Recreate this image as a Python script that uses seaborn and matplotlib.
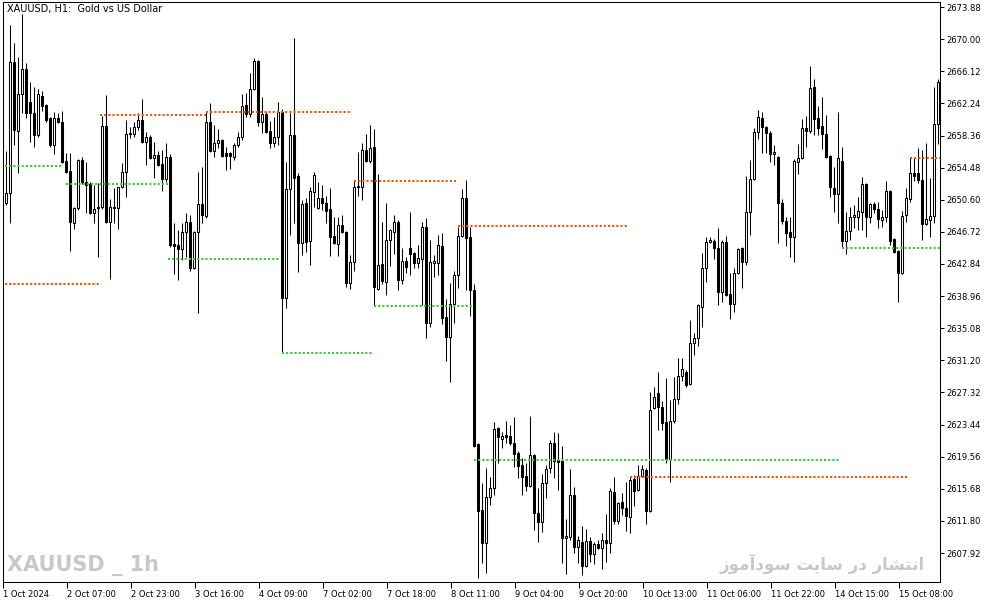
import numpy as np
import pandas as pd
import matplotlib
matplotlib.use("Agg")
import matplotlib.pyplot as plt
import seaborn as sns

# XAUUSD H1 candles (1 Oct - 15 Oct 2024)
opens = [2650.21, 2651.42, 2667.24, 2658.91, 2663.37, 2666.39, 2662.41, 2661.08, 2658.42, 2663.13,
         2662.05, 2660.48, 2657.21, 2660.48, 2659.99, 2655.28, 2654.07, 2647.79, 2649.60, 2655.40,
         2652.74, 2652.50, 2649.00, 2649.72, 2649.72, 2659.51, 2647.91, 2649.72, 2649.60, 2652.14,
         2653.95, 2658.54, 2658.54, 2659.39, 2660.23, 2657.58, 2658.18, 2655.64, 2656.01, 2654.92,
         2653.11, 2655.76, 2645.25, 2645.13, 2644.65, 2646.70, 2647.91, 2642.36, 2646.70, 2650.09,
         2648.64, 2659.99, 2656.49, 2657.46, 2657.82, 2656.25, 2656.25, 2655.76, 2657.21, 2658.18,
         2662.05, 2660.96, 2663.98, 2667.36, 2659.99, 2660.96, 2658.91, 2657.46, 2658.18, 2661.20,
         2638.73, 2651.90, 2658.42, 2653.47, 2645.38, 2650.21, 2645.62, 2651.54, 2649.60, 2650.81,
         2650.21, 2649.48, 2646.22, 2645.25, 2647.55, 2646.70, 2640.54, 2643.08, 2652.26, 2652.14,
         2656.61, 2655.28, 2656.97, 2639.82, 2642.84, 2640.66, 2645.74, 2646.70, 2647.91, 2640.91,
         2643.20, 2644.77, 2644.17, 2642.96, 2643.44, 2647.31, 2635.71, 2642.96, 2642.96, 2645.01,
         2636.44, 2634.02, 2638.01, 2641.51, 2646.22, 2650.81, 2646.10, 2639.70, 2621.09, 2613.12,
         2609.14, 2614.69, 2615.78, 2623.03, 2621.70, 2622.18, 2622.06, 2621.22, 2620.01, 2618.56,
         2617.23, 2616.02, 2619.77, 2612.76, 2611.67, 2616.38, 2618.20, 2621.22, 2619.16, 2619.04,
         2609.74, 2609.86, 2614.93, 2608.65, 2609.26, 2606.36, 2609.38, 2607.81, 2609.01, 2608.53,
         2609.50, 2609.14, 2615.30, 2611.79, 2614.09, 2613.36, 2612.28, 2616.87, 2615.54, 2617.23,
         2617.95, 2613.00, 2625.44, 2627.26, 2625.56, 2623.75, 2619.28, 2623.87, 2626.53, 2629.31,
         2629.79, 2628.34, 2633.30, 2633.90, 2637.64, 2642.36, 2645.50, 2645.62, 2644.77, 2639.46,
         2645.50, 2639.21, 2638.01, 2641.75, 2644.77, 2643.08, 2649.12, 2653.11, 2658.78, 2660.48,
         2659.39, 2658.66, 2656.13, 2655.76, 2650.21, 2648.03, 2646.70, 2646.10, 2655.16, 2655.64,
         2659.27, 2658.91, 2664.22, 2660.48, 2659.51, 2658.54, 2655.89, 2652.02, 2651.29, 2655.28,
         2645.62, 2646.83, 2648.52, 2648.52, 2649.12, 2652.50, 2648.52, 2650.09, 2649.48, 2648.15,
         2648.52, 2651.66, 2645.86, 2644.41, 2641.75, 2648.76, 2650.69, 2653.83, 2653.83, 2652.99,
         2647.67, 2648.15, 2648.64, 2659.75]
highs = [2656.49, 2671.71, 2669.54, 2667.84, 2673.04, 2667.12, 2664.82, 2664.22, 2663.98, 2663.74,
         2662.17, 2660.60, 2661.20, 2661.08, 2661.32, 2656.25, 2656.25, 2649.72, 2655.52, 2655.76,
         2655.16, 2652.74, 2652.38, 2652.62, 2660.72, 2663.25, 2650.69, 2652.02, 2652.14, 2655.04,
         2660.23, 2659.39, 2659.99, 2661.08, 2662.77, 2658.78, 2658.42, 2657.58, 2656.49, 2656.61,
         2657.46, 2656.13, 2647.79, 2646.95, 2647.79, 2649.00, 2648.76, 2646.83, 2653.95, 2654.56,
         2661.20, 2662.29, 2659.63, 2659.15, 2657.94, 2656.97, 2656.37, 2657.46, 2658.78, 2663.37,
         2663.50, 2665.91, 2667.72, 2667.48, 2663.01, 2661.20, 2660.11, 2660.60, 2662.41, 2661.56,
         2655.16, 2661.08, 2670.14, 2653.83, 2650.57, 2650.81, 2652.14, 2653.95, 2652.74, 2652.38,
         2651.05, 2652.02, 2648.52, 2648.52, 2648.76, 2646.83, 2643.93, 2652.99, 2656.37, 2657.46,
         2658.54, 2659.63, 2659.15, 2653.71, 2647.91, 2650.21, 2647.07, 2648.76, 2648.15, 2644.77,
         2643.68, 2649.12, 2644.29, 2645.13, 2647.91, 2648.40, 2645.74, 2643.93, 2646.34, 2646.58,
         2638.61, 2640.54, 2641.99, 2647.31, 2651.90, 2652.99, 2647.31, 2640.42, 2621.22, 2616.38,
         2618.20, 2617.11, 2623.75, 2623.15, 2622.54, 2623.87, 2623.39, 2624.36, 2620.25, 2619.40,
         2618.80, 2624.48, 2619.89, 2615.78, 2617.47, 2618.56, 2621.58, 2622.54, 2622.42, 2620.85,
         2612.03, 2618.07, 2615.90, 2609.98, 2611.19, 2610.83, 2609.86, 2609.26, 2609.50, 2610.34,
         2612.64, 2615.78, 2617.11, 2614.09, 2615.18, 2616.50, 2617.11, 2617.35, 2618.56, 2618.56,
         2618.20, 2627.38, 2627.98, 2629.79, 2626.29, 2629.07, 2626.41, 2629.19, 2631.48, 2631.48,
         2630.03, 2636.07, 2634.50, 2638.01, 2644.17, 2646.10, 2646.10, 2645.86, 2647.19, 2645.74,
         2646.22, 2641.75, 2642.36, 2644.77, 2644.89, 2653.47, 2655.40, 2659.27, 2661.44, 2661.20,
         2659.51, 2658.91, 2657.21, 2655.89, 2650.69, 2648.52, 2648.52, 2655.52, 2657.33, 2660.35,
         2660.72, 2666.76, 2665.19, 2661.93, 2663.01, 2660.84, 2656.01, 2654.56, 2661.20, 2656.97,
         2649.12, 2649.72, 2649.97, 2650.93, 2653.35, 2652.62, 2650.21, 2650.33, 2650.33, 2649.36,
         2652.87, 2651.78, 2645.98, 2644.53, 2649.24, 2652.02, 2655.64, 2655.64, 2656.85, 2656.61,
         2657.46, 2653.23, 2664.22, 2665.19]
lows = [2649.97, 2647.79, 2657.21, 2653.83, 2661.08, 2660.48, 2657.58, 2656.97, 2658.18, 2661.32,
        2659.99, 2656.97, 2656.13, 2659.87, 2655.04, 2653.83, 2644.41, 2647.07, 2649.36, 2652.50,
        2649.00, 2648.88, 2647.79, 2643.68, 2649.48, 2647.79, 2641.03, 2647.79, 2647.07, 2652.02,
        2650.93, 2658.06, 2658.18, 2659.03, 2657.46, 2654.80, 2655.52, 2653.23, 2654.68, 2651.66,
        2652.74, 2644.89, 2641.63, 2640.91, 2643.32, 2643.68, 2641.99, 2642.23, 2636.92, 2647.79,
        2648.40, 2656.37, 2655.76, 2656.85, 2655.76, 2654.19, 2654.31, 2655.40, 2656.97, 2657.82,
        2660.60, 2660.60, 2663.86, 2659.51, 2658.66, 2658.66, 2656.85, 2656.97, 2657.21, 2632.09,
        2637.52, 2646.34, 2647.79, 2641.87, 2643.93, 2644.29, 2642.72, 2649.72, 2649.48, 2649.36,
        2647.79, 2643.81, 2645.25, 2643.81, 2646.58, 2640.06, 2639.82, 2641.99, 2651.05, 2650.57,
        2655.16, 2655.04, 2637.89, 2639.70, 2640.42, 2639.09, 2642.60, 2644.05, 2639.70, 2640.42,
        2641.75, 2641.51, 2642.36, 2642.36, 2637.89, 2633.90, 2635.23, 2641.27, 2641.51, 2635.59,
        2631.12, 2628.58, 2635.71, 2639.94, 2646.10, 2639.70, 2636.56, 2620.73, 2604.91, 2606.72,
        2605.51, 2613.73, 2614.93, 2618.80, 2620.61, 2621.22, 2620.97, 2618.32, 2616.99, 2614.93,
        2615.42, 2615.90, 2610.71, 2609.26, 2610.46, 2614.57, 2617.59, 2616.99, 2615.54, 2606.72,
        2605.39, 2609.50, 2607.93, 2606.72, 2605.27, 2606.24, 2606.84, 2606.60, 2608.41, 2605.99,
        2606.84, 2607.93, 2611.43, 2611.43, 2612.52, 2610.59, 2610.34, 2613.61, 2615.42, 2617.11,
        2611.43, 2612.88, 2625.32, 2622.79, 2622.79, 2618.80, 2616.50, 2623.63, 2625.93, 2628.71,
        2627.98, 2628.22, 2631.85, 2632.93, 2635.23, 2640.66, 2645.38, 2643.44, 2637.89, 2638.25,
        2638.97, 2636.19, 2637.04, 2641.63, 2639.94, 2642.72, 2646.34, 2652.99, 2657.94, 2656.25,
        2656.25, 2655.16, 2654.80, 2645.38, 2647.67, 2645.01, 2643.68, 2643.08, 2653.71, 2655.52,
        2656.97, 2658.66, 2658.42, 2658.42, 2656.73, 2655.64, 2650.93, 2649.12, 2647.79, 2644.89,
        2644.05, 2645.74, 2647.19, 2646.95, 2646.95, 2646.10, 2647.79, 2649.00, 2647.19, 2647.31,
        2647.91, 2645.13, 2644.17, 2638.25, 2641.63, 2647.91, 2650.33, 2652.87, 2652.62, 2645.74,
        2647.55, 2646.10, 2647.79, 2657.33]
closes = [2651.42, 2667.24, 2659.03, 2663.37, 2666.39, 2661.08, 2661.08, 2658.42, 2663.37, 2661.93,
          2660.23, 2657.21, 2660.48, 2659.99, 2655.16, 2653.95, 2647.91, 2649.60, 2655.40, 2652.74,
          2652.38, 2649.00, 2649.48, 2649.60, 2659.51, 2647.91, 2649.72, 2649.60, 2652.14, 2653.95,
          2658.54, 2658.66, 2659.39, 2660.23, 2657.58, 2658.18, 2655.64, 2656.01, 2654.80, 2653.11,
          2655.76, 2645.13, 2645.01, 2644.65, 2646.70, 2647.91, 2642.36, 2646.70, 2650.09, 2648.76,
          2659.99, 2656.49, 2657.46, 2657.82, 2655.89, 2655.89, 2655.89, 2657.21, 2658.18, 2661.93,
          2660.96, 2663.98, 2667.36, 2659.99, 2660.96, 2658.78, 2657.46, 2658.18, 2661.20, 2638.73,
          2651.90, 2658.42, 2653.23, 2645.38, 2650.09, 2645.50, 2651.66, 2653.59, 2650.81, 2650.21,
          2649.24, 2646.10, 2645.38, 2647.55, 2646.70, 2640.54, 2643.08, 2652.14, 2652.14, 2656.61,
          2655.28, 2656.85, 2640.06, 2642.72, 2640.79, 2645.74, 2646.95, 2647.91, 2640.91, 2643.20,
          2642.48, 2644.05, 2642.96, 2643.56, 2647.31, 2635.71, 2643.08, 2643.20, 2645.13, 2636.32,
          2634.02, 2638.01, 2641.51, 2646.22, 2650.81, 2645.98, 2639.70, 2620.85, 2613.00, 2609.14,
          2614.69, 2615.78, 2622.91, 2621.94, 2622.06, 2621.94, 2621.22, 2619.89, 2618.44, 2617.11,
          2616.02, 2619.77, 2612.76, 2611.67, 2616.38, 2618.07, 2621.22, 2619.04, 2618.92, 2609.74,
          2609.98, 2614.93, 2608.65, 2609.50, 2606.36, 2609.38, 2607.81, 2609.01, 2608.53, 2609.50,
          2609.14, 2615.42, 2611.79, 2613.97, 2613.36, 2612.40, 2616.75, 2615.42, 2617.23, 2618.07,
          2613.00, 2625.20, 2626.77, 2625.56, 2623.63, 2619.28, 2623.87, 2626.53, 2629.31, 2630.15,
          2628.22, 2633.30, 2633.90, 2637.89, 2642.36, 2645.50, 2645.74, 2644.77, 2639.46, 2645.50,
          2639.09, 2638.01, 2641.75, 2644.65, 2643.08, 2649.12, 2653.11, 2658.78, 2660.60, 2659.39,
          2658.66, 2656.13, 2656.37, 2650.21, 2648.03, 2646.58, 2646.10, 2655.28, 2655.64, 2659.27,
          2658.91, 2664.10, 2660.35, 2659.27, 2658.54, 2655.76, 2652.14, 2651.29, 2655.64, 2645.62,
          2646.83, 2648.52, 2648.76, 2649.24, 2652.50, 2648.52, 2650.09, 2649.48, 2648.27, 2648.52,
          2651.66, 2645.62, 2644.29, 2641.75, 2648.64, 2650.81, 2653.83, 2653.47, 2652.99, 2647.67,
          2648.27, 2648.64, 2659.75, 2664.82]

# support / resistance levels drawn as dotted segments (price, first bar, last bar)
level_price = [2640.42, 2654.68, 2660.84, 2661.20, 2652.50, 2643.44, 2632.09,
               2652.87, 2637.77, 2647.43, 2619.16, 2617.11, 2655.64, 2644.77]
level_start = [-0.3, -0.3, 23.5, 50, 15, 40.5, 69, 87, 92, 113, 117, 156, 226, 209]
level_end = [23.5, 14, 50, 86.5, 40.5, 68.5, 91.5, 112.5, 116.5, 155.5, 208.5, 225.5, 233.5, 233.5]
level_kind = ["res", "sup", "res", "res", "sup", "sup", "sup",
              "res", "sup", "res", "sup", "res", "res", "sup"]

# time axis labels (every 16 bars)
time_bars = [0, 16, 32, 48, 64, 80, 96, 112, 128, 144, 160, 176, 192, 208, 224]
time_labels = ["1 Oct 2024", "2 Oct 07:00", "2 Oct 23:00", "3 Oct 16:00", "4 Oct 09:00",
               "7 Oct 02:00", "7 Oct 18:00", "8 Oct 11:00", "9 Oct 04:00", "9 Oct 20:00",
               "10 Oct 13:00", "11 Oct 06:00", "11 Oct 22:00", "14 Oct 15:00", "15 Oct 08:00"]
price_ticks = [2673.88, 2670.00, 2666.12, 2662.24, 2658.36, 2654.48, 2650.60, 2646.72, 2642.84,
               2638.96, 2635.08, 2631.20, 2627.32, 2623.44, 2619.56, 2615.68, 2611.80, 2607.92]

df = pd.DataFrame({"open": opens, "high": highs, "low": lows, "close": closes})
df["bar"] = np.arange(len(df))
df["bull"] = df["close"] >= df["open"]

lv = []
for k in range(len(level_price)):
    lv.append({"level": k, "kind": level_kind[k], "bar": level_start[k], "price": level_price[k]})
    lv.append({"level": k, "kind": level_kind[k], "bar": level_end[k], "price": level_price[k]})
lv = pd.DataFrame(lv)

sns.set_theme(style="white")
plt.rcParams["font.family"] = ["DejaVu Sans"]

W, H = 994, 605
fig = plt.figure(figsize=(W / 100, H / 100), dpi=100)
fig.patch.set_facecolor("white")
ax = fig.add_axes([3 / W, 1 - 582 / H, 937 / W, 580 / H])
ax.set_facecolor("white")

# wicks then bodies
ax.vlines(df["bar"], df["low"], df["high"], color="black", lw=0.75, zorder=2)
body_bottom = df[["open", "close"]].min(axis=1)
body_height = (df["close"] - df["open"]).abs()
ax.bar(df["bar"], body_height, bottom=body_bottom, width=0.5,
       color=np.where(df["bull"], "white", "black"), edgecolor="black", linewidth=0.75, zorder=3)

sns.lineplot(data=lv, x="bar", y="price", units="level", hue="kind", estimator=None,
             palette={"res": "#FF5000", "sup": "#33CC33"}, linestyle=(0, (1, 1)),
             linewidth=1.5, legend=False, sort=False, ax=ax, zorder=4)

ax.set_xlim(-0.75, 233.5)
ax.set_ylim(2604.42, 2674.49)
ax.set_xlabel("")
ax.set_ylabel("")

ax.yaxis.tick_right()
ax.set_yticks(price_ticks)
ax.set_yticklabels([f"{p:.2f}" for p in price_ticks])
ax.set_xticks([b - 0.8 for b in time_bars])
ax.set_xticklabels(time_labels)
for lbl in ax.get_xticklabels():
    lbl.set_horizontalalignment("left")
ax.tick_params(axis="y", direction="out", length=3, width=0.75, pad=1.5,
               labelsize=6, colors="black", right=True, left=False)
ax.tick_params(axis="x", direction="out", length=4, width=0.75, pad=2,
               labelsize=6, colors="black", bottom=True)
for s in ax.spines.values():
    s.set_color("black")
    s.set_linewidth(0.75)
ax.grid(False)

fig.text(7 / W, 1 - 9 / H, "XAUUSD, H1:  Gold vs US Dollar", ha="left", va="center",
         fontsize=7, color="black")

# watermarks
fig.text(7 / W, 1 - 566 / H, "XAUUSD _ 1h", ha="left", va="center", fontsize=15,
         fontweight="bold", color="#C8C8C8")

# "انتشار در سایت سودآموز" written with shaped glyphs in visual order
persian = ("\ufeaf\ufeee\ufee3\ufe81\ufea9\ufeee\ufeb3 \ufe96\ufbfe\ufe8e\ufeb3 "
           "\ufead\ufea9 \ufead\ufe8e\ufeb8\ufe98\ufee7\ufe8d")
fig.text(925 / W, 1 - 564 / H, persian, ha="right", va="center", fontsize=12,
         fontweight="bold", color="#C8C8C8", family=["DejaVu Sans"])

fig.savefig("out.png", dpi=100, facecolor="white")
